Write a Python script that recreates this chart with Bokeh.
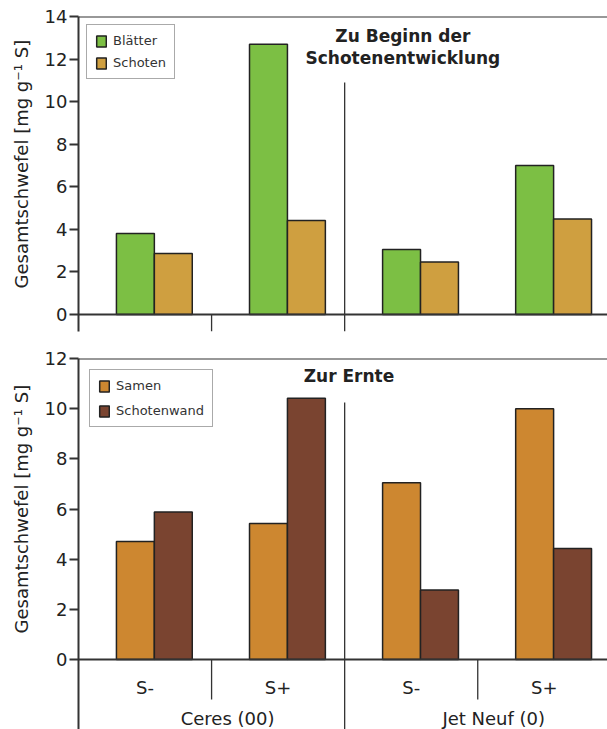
import numpy as np
from bokeh.plotting import figure
from bokeh.models import Range1d, FixedTicker, Span, Title
from bokeh.layouts import column
from bokeh.embed import file_html
from bokeh.resources import INLINE
from bokeh.core.properties import value

# ---------------- data ----------------
groups = ["Ceres (00)", "Jet Neuf (0)"]
treatments = ["S-", "S+", "S-", "S+"]
blaetter = [3.8, 12.7, 3.05, 7.0]
schoten = [2.87, 4.42, 2.47, 4.48]
samen = [4.7, 5.42, 7.05, 10.0]
schotenwand = [5.88, 10.42, 2.77, 4.43]
top_ticks = [0, 2, 4, 6, 8, 10, 12, 14]
bottom_ticks = [0, 2, 4, 6, 8, 10, 12]
ylabel = "Gesamtschwefel [mg g\u207b\u00b9 S]"

# ---------------- style ----------------
FONT = "DejaVu Sans"
GREEN = "#7CBF44"
TAN = "#CF9F40"
ORANGE = "#CD8730"
BROWN = "#7A4430"
DARK = "#333333"
BW = 0.285
X0, X1 = -0.57, 3.405
idx = np.arange(len(treatments))
seps = idx[:3] + 0.43


def base_fig(height, y0, y1, ticks, btop, bbot, label_offset):
    p = figure(width=607, height=height, x_range=Range1d(X0, X1),
               y_range=Range1d(y0, y1), output_backend="svg",
               toolbar_location=None, min_border_left=78, min_border_right=0,
               min_border_top=btop, min_border_bottom=bbot)
    p.xaxis.visible = False
    p.grid.visible = False
    p.outline_line_color = None
    ax = p.yaxis[0]
    ax.ticker = FixedTicker(ticks=ticks)
    ax.minor_tick_line_color = None
    ax.major_tick_in = 0
    ax.major_tick_out = 9
    ax.major_tick_line_width = 2
    ax.major_tick_line_color = DARK
    ax.axis_line_width = 2
    ax.axis_line_color = DARK
    ax.major_label_text_font = FONT
    ax.major_label_text_font_size = "18px"
    ax.major_label_text_color = "#222222"
    ax.major_label_standoff = 2
    p.add_layout(Span(location=0, dimension="width", line_color=DARK, line_width=2))
    p.add_layout(Span(location=y1, dimension="width", line_color=DARK, line_width=2))
    p.add_layout(Title(text=ylabel, align="left", offset=label_offset,
                       vertical_align="top", standoff=16,
                       text_font=FONT, text_font_size="18px",
                       text_font_style="normal", text_color="#222222"), "left")
    return p


def style_legend(p, margin, spacing):
    leg = p.legend[0]
    leg.location = "top_left"
    leg.margin = margin
    leg.padding = 8
    leg.spacing = spacing
    leg.glyph_width = 12
    leg.glyph_height = 14
    leg.label_height = 14
    leg.label_standoff = 6
    leg.label_text_font = FONT
    leg.label_text_font_size = "13px"
    leg.label_text_color = DARK
    leg.border_line_color = "#555555"
    leg.border_line_width = 1.5


# ---------------- top panel ----------------
pt = base_fig(340, -0.8, 14, top_ticks, 16, 9, 43)
pt.vbar(x=idx - BW / 2, top=blaetter, bottom=0, width=BW, fill_color=GREEN,
        line_color="#222222", line_width=1.5, legend_label="Blätter")
pt.vbar(x=idx + BW / 2, top=schoten, bottom=0, width=BW, fill_color=TAN,
        line_color="#222222", line_width=1.5, legend_label="Schoten")
pt.segment(x0=[seps[0], seps[1]], y0=[0, 10.9], x1=[seps[0], seps[1]], y1=[-0.8, -0.8],
           line_color=DARK, line_width=1.3)
pt.text(x=[1.8675, 1.8675], y=[13.1, 12.07],
        text=["Zu Beginn der", "Schotenentwicklung"],
        text_font=value(FONT), text_font_style="bold", text_font_size=value("17px"),
        text_align="center", text_baseline="middle", text_color="#222222")
style_legend(pt, 8, 7)

# ---------------- bottom panel ----------------
pb = base_fig(389, -2.79, 12, bottom_ticks, 18, 0, 96)
pb.vbar(x=idx - BW / 2, top=samen, bottom=0, width=BW, fill_color=ORANGE,
        line_color="#222222", line_width=1.5, legend_label="Samen")
pb.vbar(x=idx + BW / 2, top=schotenwand, bottom=0, width=BW, fill_color=BROWN,
        line_color="#222222", line_width=1.5, legend_label="Schotenwand")
pb.segment(x0=list(seps), y0=[0, 10.25, 0], x1=list(seps), y1=[-1.595, -2.79, -1.595],
           line_color=DARK, line_width=1.3)
pb.text(x=idx - 0.07, y=[-1.116] * 4, text=treatments,
        text_font=value(FONT), text_font_size=value("18px"),
        text_align="center", text_baseline="middle", text_color="#222222")
pb.text(x=np.array([0.5, 2.5]) + 0.05, y=[-2.35, -2.35], text=groups,
        text_font=value(FONT), text_font_size=value("18px"),
        text_align="center", text_baseline="middle", text_color="#222222")
pb.text(x=[1.4625], y=[11.32], text=["Zur Ernte"],
        text_font=value(FONT), text_font_style="bold", text_font_size=value("17px"),
        text_align="center", text_baseline="middle", text_color="#222222")
style_legend(pb, 11, 10)

layout = column(pt, pb)
open("out.html", "w").write(file_html(layout, INLINE))
